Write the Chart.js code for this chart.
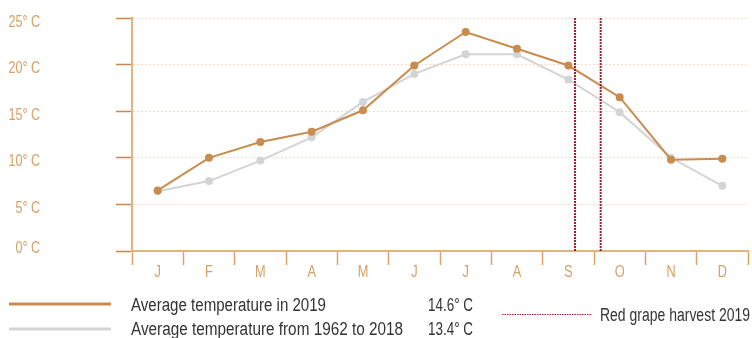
<!DOCTYPE html>
<html>
<head>
<meta charset="utf-8">
<script src="https://cdn.jsdelivr.net/npm/chart.js@4"></script>
<style>
  body { margin: 0; background: #fff; }
  #tempChart { display: block; }
</style>
</head>
<body>
<canvas id="tempChart" width="752" height="338"></canvas>
<script>
const months = ['J', 'F', 'M', 'A', 'M', 'J', 'J', 'A', 'S', 'O', 'N', 'D'];
const temps2019 = [6.5, 10.0, 11.7, 12.8, 15.1, 19.9, 23.5, 21.7, 19.9, 16.5, 9.8, 9.9];
const tempsAvg = [6.4, 7.5, 9.7, 12.2, 16.0, 19.0, 21.1, 21.1, 18.4, 14.9, 10.0, 7.0];
const yTicks = [0, 5, 10, 15, 20, 25];
const mean2019 = '14.6° C';
const meanAvg = '13.4° C';
// harvest window as fractional month index (category centres are integers)
const harvestStart = 8.13;
const harvestEnd = 8.63;

const FONT = "'Liberation Sans', Arial, sans-serif";
const TAN = '#c98c4f';
const GREY = '#d4d4d4';
const HARVEST = '#a31f2f';
const LABEL = '#d6a066';

// narrow text: squeeze horizontally around the anchor point
function narrowText(ctx, text, x, y, sx, align) {
  ctx.save();
  ctx.translate(x, y);
  ctx.scale(sx, 1);
  ctx.textAlign = align;
  ctx.fillText(text, 0, 0);
  ctx.restore();
}

// tick labels in the narrow face, placed from the scales
const axisLabels = {
  id: 'axisLabels',
  afterDraw(chart) {
    const { ctx, scales: { x, y } } = chart;
    ctx.save();
    ctx.fillStyle = LABEL;
    ctx.textBaseline = 'alphabetic';

    ctx.font = '17px ' + FONT;
    y.ticks.forEach(t => {
      const py = Math.min(y.getPixelForValue(t.value) + 8.5, y.bottom + 1.5);
      narrowText(ctx, t.value + '° C', 40, py, 0.74, 'right');
    });

    ctx.font = '16px ' + FONT;
    x.ticks.forEach((t, i) => {
      narrowText(ctx, x.getLabelForValue(t.value), x.getPixelForTick(i), 277, 0.8, 'center');
    });
    ctx.restore();
  }
};

// dotted vertical lines for the harvest window
const harvestLines = {
  id: 'harvestLines',
  afterDatasetsDraw(chart) {
    const { ctx, chartArea, scales: { x } } = chart;
    ctx.save();
    ctx.strokeStyle = HARVEST;
    ctx.lineWidth = 2;
    ctx.setLineDash([2, 1]);
    [harvestStart, harvestEnd].forEach(v => {
      const px = x.getPixelForDecimal((v + 0.5) / months.length);
      ctx.beginPath();
      ctx.moveTo(px, chartArea.top);
      ctx.lineTo(px, chartArea.bottom);
      ctx.stroke();
    });
    ctx.restore();
  }
};

// legend block under the axis
const legendBlock = {
  id: 'legendBlock',
  afterDraw(chart) {
    const ctx = chart.ctx;
    ctx.save();
    ctx.lineWidth = 3;
    ctx.strokeStyle = TAN;
    ctx.beginPath(); ctx.moveTo(9, 304); ctx.lineTo(111, 304); ctx.stroke();
    ctx.strokeStyle = GREY;
    ctx.beginPath(); ctx.moveTo(9, 329); ctx.lineTo(111, 329); ctx.stroke();

    ctx.lineWidth = 1;
    ctx.strokeStyle = HARVEST;
    ctx.setLineDash([1.5, 1]);
    ctx.beginPath(); ctx.moveTo(502, 314.5); ctx.lineTo(591, 314.5); ctx.stroke();
    ctx.setLineDash([]);

    // text squeezed to a fixed width with fillText's maxWidth
    ctx.fillStyle = '#333';
    ctx.font = '18px ' + FONT;
    ctx.textBaseline = 'alphabetic';
    ctx.textAlign = 'left';
    ctx.fillText('Average temperature in 2019', 131, 311, 195);
    ctx.fillText('Average temperature from 1962 to 2018', 131, 335, 272);
    ctx.fillText(mean2019, 428, 311, 45);
    ctx.fillText(meanAvg, 428, 335, 45);
    ctx.fillText('Red grape harvest 2019', 600, 321, 150);
    ctx.restore();
  }
};

new Chart(document.getElementById('tempChart'), {
  type: 'line',
  data: {
    labels: months,
    datasets: [
      {
        label: 'Average temperature in 2019',
        data: temps2019,
        borderColor: TAN,
        backgroundColor: TAN,
        borderWidth: 2,
        pointRadius: 4,
        pointBorderWidth: 0,
        tension: 0
      },
      {
        label: 'Average temperature from 1962 to 2018',
        data: tempsAvg,
        borderColor: GREY,
        backgroundColor: GREY,
        borderWidth: 2,
        pointRadius: 4,
        pointBorderWidth: 0,
        tension: 0
      }
    ]
  },
  options: {
    responsive: false,
    animation: false,
    layout: { padding: { top: 18, right: 1, left: 0, bottom: 0 } },
    plugins: {
      legend: { display: false },
      tooltip: { enabled: false }
    },
    scales: {
      x: {
        offset: true,
        grid: {
          offset: true,
          drawOnChartArea: false,
          tickLength: 14,
          tickColor: '#d9a46b',
          tickWidth: 1.5
        },
        border: { color: '#dfb47f', width: 2 },
        ticks: { display: false },
        afterFit(scale) { scale.height = 87; }
      },
      y: {
        min: 0,
        max: 25,
        afterBuildTicks(scale) { scale.ticks = yTicks.map(v => ({ value: v })); },
        grid: {
          color: '#f6dcc3',
          lineWidth: 1,
          tickLength: 16,
          tickColor: '#c8874a',
          tickWidth: 1.5
        },
        border: { color: '#dfb47f', width: 2, dash: [2, 2] },
        ticks: { display: false },
        afterFit(scale) { scale.width = 132; }
      }
    }
  },
  plugins: [harvestLines, axisLabels, legendBlock]
});
</script>
</body>
</html>
